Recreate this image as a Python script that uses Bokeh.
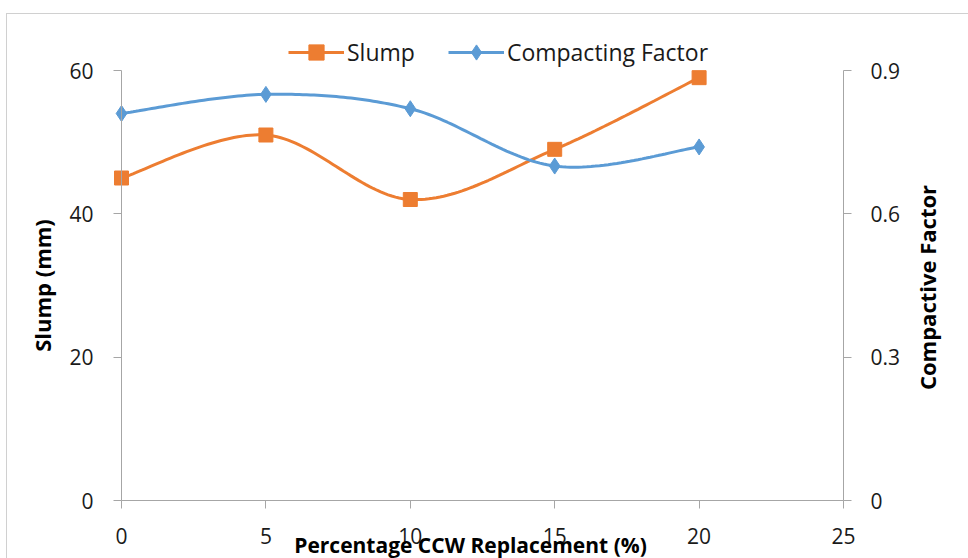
import math
import numpy as np
from bokeh.plotting import figure
from bokeh.models import Range1d, LinearAxis, FixedTicker, Legend, LegendItem, Label
from bokeh.embed import file_html
from bokeh.resources import INLINE

# CCW replacement levels (%) and measured workability
replacement = [0, 5, 10, 15, 20]
slump_mm = [45, 51, 42, 49, 59]
compacting_factor = [0.81, 0.85, 0.82, 0.70, 0.74]

x_ticks = [0, 5, 10, 15, 20, 25]
slump_ticks = [0, 20, 40, 60]
cf_ticks = [0, 0.3, 0.6, 0.9]

ORANGE = "#ED7D31"
BLUE = "#5B9BD5"
AXIS_GREY = "#a6a6a6"
FONT = "Open Sans"

# canvas size and plot-area edges (pixels inside the canvas)
W, H = 962, 545
AREA_L, AREA_R, AREA_T, AREA_B = 114, 836, 56, 486


def smooth(xs, ys, n=40):
    """Catmull-Rom style bezier smoothing through the given points."""
    pts = np.column_stack([xs, ys]).astype(float)
    ext = np.vstack([pts[0], pts, pts[-1]])
    out = []
    t = np.linspace(0, 1, n)[:, None]
    for i in range(1, len(ext) - 2):
        p0, p3 = ext[i], ext[i + 1]
        c1 = p0 + (ext[i + 1] - ext[i - 1]) / 6.0
        c2 = p3 - (ext[i + 2] - ext[i]) / 6.0
        seg = ((1 - t) ** 3) * p0 + 3 * ((1 - t) ** 2) * t * c1 \
            + 3 * (1 - t) * t ** 2 * c2 + t ** 3 * p3
        out.append(seg if i == 1 else seg[1:])
    seg = np.vstack(out)
    return seg[:, 0], seg[:, 1]


# the frame fills the whole canvas; ranges are padded so that the data
# area sits where the axes are drawn
x_max, y_max, cf_max = x_ticks[-1], slump_ticks[-1], cf_ticks[-1]
xpp = x_max / (AREA_R - AREA_L)
ypp = y_max / (AREA_B - AREA_T)
x_range = Range1d(-AREA_L * xpp, x_max + (W - AREA_R) * xpp)
y_range = Range1d(-(H - AREA_B) * ypp, y_max + AREA_T * ypp)
k = cf_max / y_max
cf_range = Range1d(y_range.start * k, y_range.end * k)

p = figure(width=W, height=H, output_backend="svg", toolbar_location=None,
           x_range=x_range, y_range=y_range, x_axis_type=None, y_axis_type=None,
           min_border=0, margin=(13, 0, 0, 6),
           styles={"border-left": "1px solid #d0d0d0",
                   "border-top": "1px solid #d0d0d0"})
p.title.visible = False
p.outline_line_color = None
p.background_fill_color = "white"
p.border_fill_color = "white"
p.extra_y_ranges = {"cf": cf_range}


def make_axis(ticks, **kw):
    ax = LinearAxis(ticker=FixedTicker(ticks=ticks), bounds=(ticks[0], ticks[-1]), **kw)
    ax.axis_line_color = AXIS_GREY
    ax.axis_line_width = 1
    ax.major_tick_line_color = AXIS_GREY
    ax.major_tick_in = 0
    ax.major_tick_out = 8
    ax.minor_tick_line_color = None
    ax.major_label_text_font = FONT
    ax.major_label_text_font_size = "21px"
    ax.major_label_text_color = "#1a1a1a"
    return ax


xa = make_axis(x_ticks, fixed_location=0)
xa.major_label_standoff = 19
p.add_layout(xa, "below")

ya = make_axis(slump_ticks, fixed_location=0)
ya.major_label_standoff = 20
p.add_layout(ya, "left")

ra = make_axis(cf_ticks, fixed_location=x_max, y_range_name="cf")
ra.major_label_standoff = 19
p.add_layout(ra, "right")

# axis titles
title_style = dict(text_font=FONT, text_font_style="bold",
                   text_color="black", x_units="screen", y_units="screen")
p.add_layout(Label(x=(AREA_L + AREA_R) / 2 - 12, y=15, text="Percentage CCW Replacement (%)",
                   text_align="center", text_baseline="alphabetic",
                   text_font_size="21px", **title_style))
p.add_layout(Label(x=34, y=H - (AREA_T + AREA_B) / 2, text="Slump (mm)", angle=math.pi / 2,
                   text_align="center", text_baseline="middle",
                   text_font_size="22px", **title_style))
p.add_layout(Label(x=919, y=H - (AREA_T + AREA_B) / 2 - 2, text="Compactive Factor",
                   angle=math.pi / 2, text_align="center", text_baseline="middle",
                   text_font_size="22px", **title_style))

sx, sy = smooth(replacement, slump_mm)
cx, cy = smooth(replacement, compacting_factor)

s_line = p.line(sx, sy, line_color=ORANGE, line_width=3)
s_pts = p.scatter(replacement, slump_mm, marker="square", size=14,
                  fill_color=ORANGE, line_color=ORANGE)
c_line = p.line(cx, cy, line_color=BLUE, line_width=3, y_range_name="cf")
c_pts = p.scatter(replacement, compacting_factor, marker="diamond", size=16,
                  fill_color=BLUE, line_color=BLUE, y_range_name="cf")

legend = Legend(items=[LegendItem(label="Slump", renderers=[s_line, s_pts]),
                       LegendItem(label="Compacting Factor", renderers=[c_line, c_pts])],
                location=(281, 488), orientation="horizontal",
                glyph_width=56, glyph_height=38, label_standoff=3, spacing=33,
                padding=0, margin=0, border_line_color=None,
                background_fill_alpha=0,
                label_text_font=FONT, label_text_font_size="23px",
                label_text_color="#1a1a1a")
p.add_layout(legend, "center")

open("out.html", "w").write(file_html(p, INLINE))
